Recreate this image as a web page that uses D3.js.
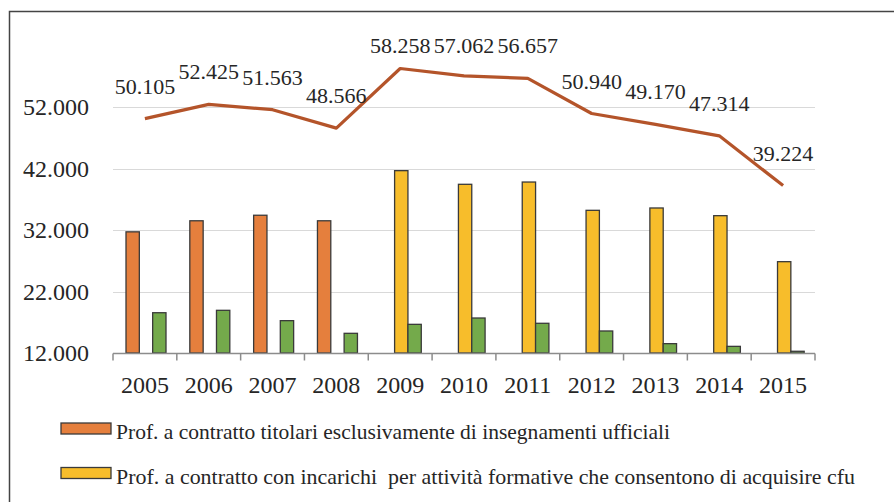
<!DOCTYPE html>
<html>
<head>
<meta charset="utf-8">
<script src="https://cdnjs.cloudflare.com/ajax/libs/d3/7.8.5/d3.min.js"></script>
<style>
  html, body { margin: 0; padding: 0; background: #fff; }
  svg text { font-family: "Liberation Serif", "Times New Roman", serif; }
</style>
</head>
<body>
<svg id="chart" width="894" height="502"></svg>
<script>
const years = ["2005", "2006", "2007", "2008", "2009", "2010", "2011", "2012", "2013", "2014", "2015"];
const titolari = [31700, 33500, 34400, 33500, null, null, null, null, null, null, null];
const incarichi = [null, null, null, null, 41650, 39430, 39800, 35200, 35580, 34330, 26850];
const altri = [18550, 18940, 17260, 15200, 16660, 17690, 16830, 15580, 13520, 13080, 12280];
const totale = [50105, 52425, 51563, 48566, 58258, 57062, 56657, 50940, 49170, 47314, 39224];
const yTicks = [12000, 22000, 32000, 42000, 52000];
const legendNames = [
  "Prof. a contratto titolari esclusivamente di insegnamenti ufficiali",
  "Prof. a contratto con incarichi  per attività formative che consentono di acquisire cfu"
];

const colors = { titolari: "#e57f3d", incarichi: "#f7bd2b", altri: "#74aa4b", line: "#b4542a" };

const it = d3.formatLocale({ decimal: ",", thousands: ".", grouping: [3], currency: ["€", ""] });
const fmt = it.format(",d");

const svg = d3.select("#chart");

// outer frame (continues past the visible area)
svg.append("path")
  .attr("d", "M9.5,560 V11.5 H960")
  .attr("fill", "none")
  .attr("stroke", "#444")
  .attr("stroke-width", 1.5);

const x = d3.scaleBand().domain(years).range([113, 815]);
const xs = d3.scaleBand().domain(["titolari", "incarichi", "altri"]).range([13, 53]);
const y = d3.scaleLinear().domain([12000, 62000]).range([353, 45.5]);

// gridlines
svg.append("g")
  .selectAll("line")
  .data(yTicks.slice(1))
  .join("line")
  .attr("x1", 113).attr("x2", 815)
  .attr("y1", d => Math.round(y(d)) + 0.5).attr("y2", d => Math.round(y(d)) + 0.5)
  .attr("stroke", "#d9d9d9")
  .attr("stroke-width", 1.2);

// y labels
svg.append("g")
  .selectAll("text")
  .data(yTicks)
  .join("text")
  .attr("x", 89)
  .attr("y", d => y(d) + 8)
  .attr("text-anchor", "end")
  .attr("font-size", 24)
  .attr("fill", "#262626")
  .text(d => fmt(d));

// bars
const series = [
  { key: "titolari", values: titolari },
  { key: "incarichi", values: incarichi },
  { key: "altri", values: altri }
];
series.forEach(s => {
  svg.append("g")
    .selectAll("rect")
    .data(years.map((yr, i) => ({ yr, v: s.values[i] })).filter(d => d.v != null))
    .join("rect")
    .attr("x", d => x(d.yr) + xs(s.key))
    .attr("y", d => y(d.v))
    .attr("width", xs.bandwidth())
    .attr("height", d => y(12000) - y(d.v))
    .attr("fill", colors[s.key])
    .attr("stroke", "#3a3a3a")
    .attr("stroke-width", 1.3);
});

// x axis
const xAxis = svg.append("g").attr("transform", "translate(0,353.5)");
xAxis.append("line")
  .attr("x1", 113).attr("x2", 815)
  .attr("stroke", "#8c8c8c").attr("stroke-width", 1.5);
xAxis.selectAll("line.tick")
  .data(years.concat(["end"]))
  .join("line")
  .attr("class", "tick")
  .attr("x1", (d, i) => 113 + i * x.step()).attr("x2", (d, i) => 113 + i * x.step())
  .attr("y1", 0).attr("y2", 7)
  .attr("stroke", "#8c8c8c").attr("stroke-width", 1.5);
svg.append("g")
  .selectAll("text")
  .data(years)
  .join("text")
  .attr("x", d => x(d) + x.bandwidth() / 2)
  .attr("y", 393)
  .attr("text-anchor", "middle")
  .attr("font-size", 24)
  .attr("fill", "#262626")
  .text(d => d);

// line
const line = d3.line()
  .x((d, i) => x(years[i]) + x.bandwidth() / 2)
  .y(d => y(d));
svg.append("path")
  .datum(totale)
  .attr("d", line)
  .attr("fill", "none")
  .attr("stroke", colors.line)
  .attr("stroke-width", 3.2)
  .attr("stroke-linejoin", "round");

// line labels
svg.append("g")
  .selectAll("text")
  .data(totale)
  .join("text")
  .attr("x", (d, i) => x(years[i]) + x.bandwidth() / 2)
  .attr("y", d => Math.max(y(d) - 25, 53))
  .attr("text-anchor", "middle")
  .attr("font-size", 22)
  .attr("fill", "#262626")
  .text(d => fmt(d));

// legend
const legendWidths = [554, 739];
const legend = svg.append("g")
  .selectAll("g")
  .data(legendNames)
  .join("g")
  .attr("transform", (d, i) => `translate(0,${i * 44.5})`);
legend.append("rect")
  .attr("x", 61).attr("y", 423)
  .attr("width", 50).attr("height", 11)
  .attr("fill", (d, i) => i === 0 ? colors.titolari : colors.incarichi)
  .attr("stroke", "#3a3a3a")
  .attr("stroke-width", 1.3);
legend.append("text")
  .attr("x", 116)
  .attr("y", 439)
  .attr("font-size", 21)
  .attr("fill", "#262626")
  .attr("textLength", (d, i) => legendWidths[i])
  .attr("lengthAdjust", "spacingAndGlyphs")
  .style("white-space", "pre")
  .text(d => d);
</script>
</body>
</html>
